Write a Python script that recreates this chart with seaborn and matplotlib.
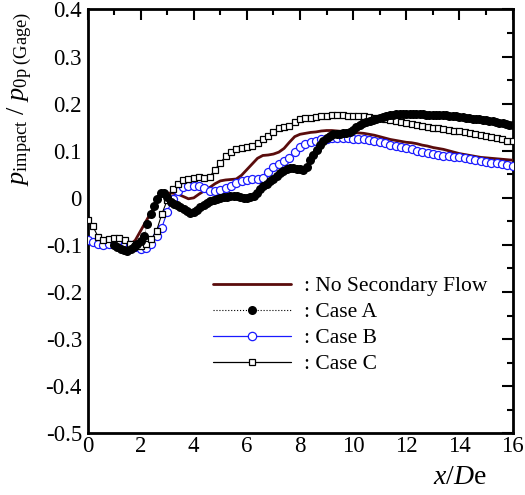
import numpy as np
import pandas as pd
import matplotlib
matplotlib.use("Agg")
import matplotlib.pyplot as plt
import seaborn as sns
from matplotlib.lines import Line2D
from matplotlib.ticker import MultipleLocator, FuncFormatter

# ---------------- data ----------------
x_02 = np.round(np.arange(0, 16.0001, 0.2), 3)      # sampling grid, step 0.2
x_A = np.round(np.arange(1.0, 16.0001, 0.125), 3)   # sampling grid, step 0.125

no_secondary = [
    -0.095, -0.096, -0.098, -0.097, -0.095, -0.096, -0.097, -0.099, -0.100, -0.090,
    -0.070, -0.050, -0.030, -0.012, 0.008, 0.010, 0.010, 0.008, 0.003, -0.002,
    0.000, 0.008, 0.015, 0.022, 0.030, 0.036, 0.038, 0.039, 0.040, 0.048,
    0.060, 0.072, 0.084, 0.090, 0.091, 0.093, 0.097, 0.105, 0.118, 0.130,
    0.135, 0.137, 0.139, 0.140, 0.142, 0.143, 0.143, 0.142, 0.141, 0.140,
    0.139, 0.138, 0.137, 0.135, 0.133, 0.130, 0.127, 0.124, 0.122, 0.120,
    0.118, 0.117, 0.115, 0.112, 0.110, 0.107, 0.105, 0.103, 0.100, 0.097,
    0.094, 0.092, 0.090, 0.088, 0.086, 0.085, 0.084, 0.083, 0.082, 0.081,
    0.080,
]

case_B = [
    -0.090, -0.093, -0.098, -0.100, -0.097, -0.092, -0.090, -0.095, -0.100, -0.105,
    -0.108, -0.106, -0.097, -0.082, -0.063, -0.030, -0.002, 0.015, 0.022, 0.025,
    0.026, 0.025, 0.020, 0.015, 0.014, 0.017, 0.020, 0.026, 0.032, 0.036,
    0.038, 0.040, 0.041, 0.043, 0.055, 0.065, 0.072, 0.078, 0.085, 0.097,
    0.108, 0.114, 0.119, 0.121, 0.124, 0.126, 0.127, 0.128, 0.128, 0.127,
    0.126, 0.126, 0.125, 0.122, 0.120, 0.118, 0.116, 0.113, 0.110, 0.107,
    0.105, 0.103, 0.100, 0.098, 0.095, 0.093, 0.091, 0.089, 0.088, 0.087,
    0.086, 0.084, 0.082, 0.080, 0.078, 0.076, 0.074, 0.073, 0.071, 0.069,
    0.067,
]

case_C = [
    -0.047, -0.060, -0.083, -0.090, -0.088, -0.086, -0.085, -0.090, -0.097, -0.102,
    -0.103, -0.098, -0.088, -0.070, -0.034, -0.005, 0.018, 0.030, 0.037, 0.041,
    0.043, 0.044, 0.042, 0.045, 0.060, 0.075, 0.088, 0.097, 0.103, 0.106,
    0.108, 0.110, 0.116, 0.125, 0.132, 0.140, 0.148, 0.151, 0.153, 0.162,
    0.167, 0.169, 0.170, 0.171, 0.173, 0.174, 0.175, 0.175, 0.175, 0.174,
    0.174, 0.173, 0.173, 0.171, 0.170, 0.169, 0.168, 0.166, 0.164, 0.161,
    0.158, 0.156, 0.154, 0.152, 0.150, 0.149, 0.148, 0.147, 0.145, 0.143,
    0.141, 0.139, 0.137, 0.136, 0.134, 0.132, 0.130, 0.127, 0.124, 0.121,
    0.120,
]

case_A = [
    -0.100, -0.105, -0.109, -0.111, -0.112, -0.109, -0.104, -0.098,   # 1
    -0.092, -0.082, -0.055, -0.035, -0.018, -0.002, 0.010, 0.010,     # 2
    0.001, -0.008, -0.013, -0.016, -0.020, -0.024, -0.028, -0.033,    # 3
    -0.030, -0.025, -0.020, -0.015, -0.010, -0.007, -0.004, -0.002,   # 4
    0.000, 0.001, 0.002, 0.003, 0.004, 0.004, 0.002, 0.000,           # 5
    0.000, 0.002, 0.005, 0.010, 0.018, 0.025, 0.030, 0.035,           # 6
    0.040, 0.046, 0.052, 0.057, 0.062, 0.064, 0.063, 0.062,           # 7
    0.061, 0.060, 0.065, 0.080, 0.090, 0.102, 0.112, 0.120,           # 8
    0.127, 0.132, 0.135, 0.136, 0.136, 0.137, 0.137, 0.140,           # 9
    0.145, 0.150, 0.155, 0.159, 0.162, 0.164, 0.166, 0.168,           # 10
    0.170, 0.172, 0.174, 0.176, 0.177, 0.178, 0.179, 0.179,           # 11
    0.179, 0.179, 0.179, 0.179, 0.178, 0.178, 0.177, 0.177,           # 12
    0.177, 0.176, 0.176, 0.175, 0.175, 0.174, 0.174, 0.173,           # 13
    0.172, 0.171, 0.170, 0.169, 0.168, 0.167, 0.167, 0.166,           # 14
    0.165, 0.164, 0.163, 0.162, 0.160, 0.158, 0.156, 0.155,           # 15
    0.154,                                                            # 16
]

labels = [": No Secondary Flow", ": Case A", ": Case B", ": Case C"]
x_ticks = [0, 2, 4, 6, 8, 10, 12, 14, 16]
y_ticks = [-0.5, -0.4, -0.3, -0.2, -0.1, 0.0, 0.1, 0.2, 0.3, 0.4]

# ---------------- style ----------------
sns.set_theme(style="white")
plt.rcParams["font.family"] = ["Liberation Serif", "DejaVu Serif"]
plt.rcParams["mathtext.fontset"] = "custom"
plt.rcParams["mathtext.rm"] = "Liberation Serif"
plt.rcParams["mathtext.it"] = "Liberation Serif:italic"
plt.rcParams["axes.unicode_minus"] = False

fig = plt.figure(figsize=(5.25, 4.95), dpi=100)
ax = fig.add_axes([87.5 / 525, (495 - 433.3) / 495, 425 / 525, 423.8 / 495])

dark_red = "#5a0c0c"
blue = "#1a1aff"

df_nsf = pd.DataFrame({"x": x_02, "y": no_secondary})
df_A = pd.DataFrame({"x": x_A, "y": case_A})
df_B = pd.DataFrame({"x": x_02, "y": case_B})
df_C = pd.DataFrame({"x": x_02, "y": case_C})

sns.lineplot(data=df_nsf, x="x", y="y", ax=ax, color=dark_red, lw=2.0,
             estimator=None, sort=False, zorder=3)
sns.lineplot(data=df_B, x="x", y="y", ax=ax, color=blue, lw=0.8,
             marker="o", markersize=5.8, markerfacecolor="white",
             markeredgecolor=blue, markeredgewidth=0.9,
             estimator=None, sort=False, zorder=4)
sns.lineplot(data=df_C, x="x", y="y", ax=ax, color="black", lw=0.8,
             marker="s", markersize=4.2, markerfacecolor="white",
             markeredgecolor="black", markeredgewidth=0.9,
             estimator=None, sort=False, zorder=5)
sns.lineplot(data=df_A, x="x", y="y", ax=ax, color="black", lw=0.6,
             linestyle=":", marker="o", markersize=6.5, markerfacecolor="black",
             markeredgecolor="black", markeredgewidth=0,
             estimator=None, sort=False, zorder=6)

# ---------------- axes ----------------
ax.set_xlim(0, 16)
ax.set_ylim(-0.5, 0.4)
ax.set_xticks(x_ticks)
ax.set_yticks(y_ticks)
ax.xaxis.set_minor_locator(MultipleLocator(1))
ax.yaxis.set_minor_locator(MultipleLocator(0.05))
ax.yaxis.set_major_formatter(FuncFormatter(lambda v, p: "0" if abs(v) < 1e-9 else f"{v:.1f}"))
ax.tick_params(which="both", direction="in", top=True, right=True,
               colors="black", labelsize=16.5, width=1.5)
ax.tick_params(which="major", length=8, pad=4)
ax.tick_params(which="minor", length=4)
ax.tick_params(axis="x", pad=2)
for s in ax.spines.values():
    s.set_linewidth(2.0)
    s.set_color("black")
ax.grid(False)

ax.set_xlabel(r"$x/D\mathrm{e}$", fontsize=20, color="black")
ax.xaxis.set_label_coords((487 - 87.5) / 425, -0.075)
ax.xaxis.label.set_horizontalalignment("right")
ax.set_ylabel(r"$p_{\mathrm{impact}}\ /\ p_{\mathrm{0p\ (Gage)}}$", fontsize=19, color="black")
ax.yaxis.set_label_coords(-0.127, 0.79)

# ---------------- legend ----------------
handles = [
    Line2D([], [], color=dark_red, lw=2.0),
    Line2D([], [], color="black", lw=0.8, linestyle=":", marker="o",
           markersize=6.5, markerfacecolor="black", markeredgewidth=0),
    Line2D([], [], color=blue, lw=0.9, marker="o", markersize=6,
           markerfacecolor="white", markeredgecolor=blue, markeredgewidth=0.9),
    Line2D([], [], color="black", lw=0.9, marker="s", markersize=4.5,
           markerfacecolor="white", markeredgecolor="black", markeredgewidth=0.9),
]
leg = ax.legend(handles, labels, loc="upper left",
                bbox_to_anchor=((213 - 87.5) / 425, (433.3 - 276) / 423.8),
                frameon=False, fontsize=15.5, handlelength=3.6, handletextpad=0.65,
                labelspacing=0.28, borderpad=0, borderaxespad=0, numpoints=1)
for t in leg.get_texts():
    t.set_color("black")

fig.savefig("out.png", dpi=100)
